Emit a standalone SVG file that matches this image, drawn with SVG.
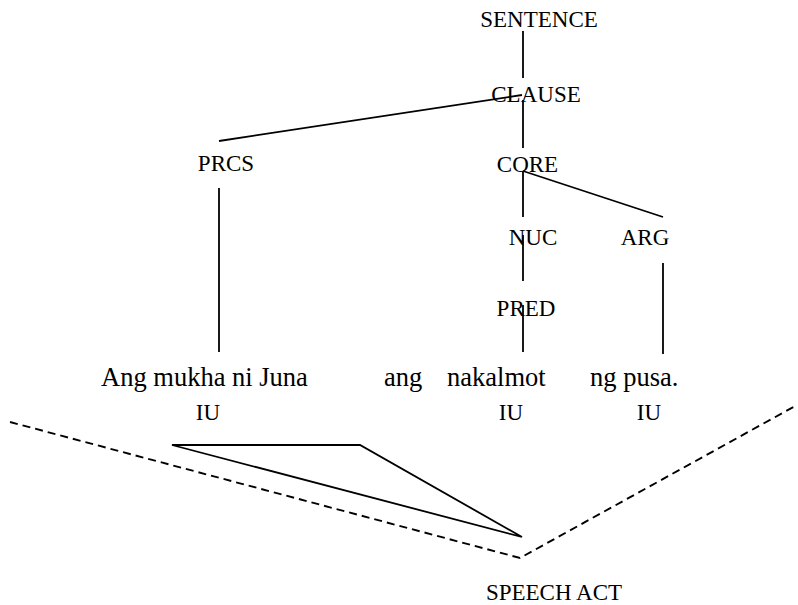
<svg xmlns="http://www.w3.org/2000/svg" width="798" height="605" viewBox="0 0 798 605">
  <style>
    .lbl { font-family: "Liberation Serif", "Times New Roman", serif; font-size: 23px; fill: #000; text-anchor: middle; }
    .word { font-family: "Liberation Serif", "Times New Roman", serif; font-size: 26.5px; fill: #000; }
    .edge { stroke: #000; stroke-width: 1.8; fill: none; }
    .dash { stroke: #000; stroke-width: 1.9; fill: none; stroke-dasharray: 8 5; }
  </style>
  <rect width="798" height="605" fill="#fff"/>

  <!-- tree branches -->
  <g id="connectors">
    <line class="edge" x1="523" y1="31" x2="523" y2="78"/>
    <line class="edge" x1="523" y1="100" x2="523" y2="148"/>
    <line class="edge" x1="522" y1="95" x2="219" y2="141"/>
    <line class="edge" x1="523" y1="171" x2="663" y2="217"/>
    <line class="edge" x1="523" y1="171" x2="523" y2="217"/>
    <line class="edge" x1="523" y1="235" x2="523" y2="281"/>
    <line class="edge" x1="523" y1="305" x2="523" y2="352"/>
    <line class="edge" x1="219" y1="188" x2="219" y2="352"/>
    <line class="edge" x1="663" y1="263" x2="663" y2="354"/>
    <!-- intonation units joined into one speech act -->
    <polygon class="edge" points="172,445 360,445 522,537"/>
    <polyline class="dash" points="10,422 520,558 797,405"/>
  </g>

  <g id="n-sentence"><text class="lbl" x="539" y="27">SENTENCE</text></g>
  <g id="n-clause"><text class="lbl" x="536" y="102">CLAUSE</text></g>
  <g id="n-prcs"><text class="lbl" x="226" y="171">PRCS</text></g>
  <g id="n-core"><text class="lbl" x="527.5" y="172">CORE</text></g>
  <g id="n-nuc"><text class="lbl" x="533" y="245">NUC</text></g>
  <g id="n-arg"><text class="lbl" x="645" y="245">ARG</text></g>
  <g id="n-pred"><text class="lbl" x="526" y="316">PRED</text></g>

  <g id="sentence-words">
    <text class="word" x="101" y="386">Ang mukha ni Juna</text>
    <text class="word" x="384" y="386">ang</text>
    <text class="word" x="447" y="386">nakalmot</text>
    <text class="word" x="590" y="386">ng pusa.</text>
  </g>

  <g id="n-iu1"><text class="lbl" x="208" y="420">IU</text></g>
  <g id="n-iu2"><text class="lbl" x="511" y="420">IU</text></g>
  <g id="n-iu3"><text class="lbl" x="649" y="420">IU</text></g>
  <g id="n-speech-act"><text class="lbl" x="554" y="600">SPEECH ACT</text></g>
</svg>
